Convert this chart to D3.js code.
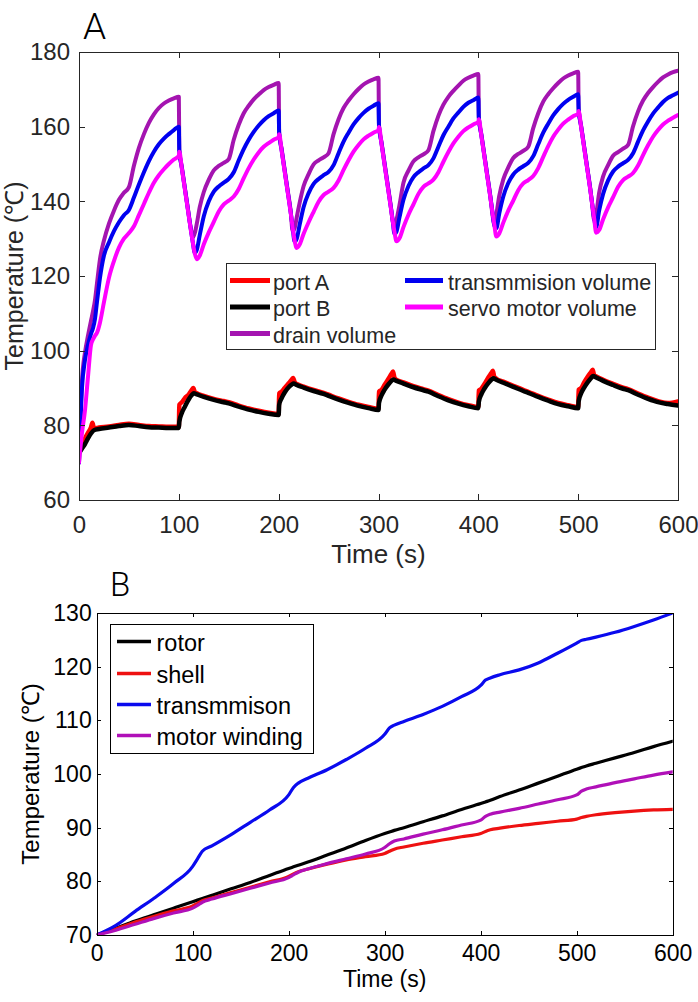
<!DOCTYPE html>
<html><head><meta charset="utf-8">
<script src="https://cdn.jsdelivr.net/npm/d3@7"></script>
<style>body{margin:0;background:#fff}svg{display:block}</style>
</head><body>
<script>
// ---------- Panel A data ----------
const volTime = [
 0,3,6,9,12,14,16,18,21,25,30,35,40,45,50,55,60,65,70,75,80,85,90,95,100,
 100.5,103,106,109,112,114,116,118,121,125,130,135,140,145,150,155,160,165,170,175,180,185,190,195,200,
 200.5,203,206,209,212,214,216,218,221,225,230,235,240,245,250,255,260,265,270,275,280,285,290,295,300,
 300.5,303,306,309,312,314,316,318,321,325,330,335,340,345,350,355,360,365,370,375,380,385,390,395,400,
 400.5,403,406,409,412,414,416,418,421,425,430,435,440,445,450,455,460,465,470,475,480,485,490,495,500,
 500.5,503,506,509,512,514,516,518,521,525,530,535,540,545,550,555,560,565,570,575,580,585,590,595,600];
const drainVolume = [
 70,92,99.5,104,108,110.5,113.5,118,124.5,129.5,134,137.5,140.4,142.3,143.8,149.5,154.3,158,161,163.3,165,166.2,167,167.6,168,
 153.8,149.2,143.7,138.2,132.8,130.3,131.5,134,138.5,142.5,145.8,148.3,149.5,150.3,151.3,156.5,160.5,163.6,165.6,167.3,168.6,169.8,170.6,171.2,171.7,
 158.5,154,148.5,143,137.5,132,132.8,135.6,139.6,144.1,147.3,149.9,151,151.8,152.9,158,162,165,167,168.7,170.1,171.3,172.1,172.7,173.1,
 160.4,155.9,150.4,144.9,139.4,135,133,135,139,145,148.2,150.7,151.8,152.6,153.7,158.8,162.9,165.9,168,169.6,171,172.3,173.1,173.7,174.1,
 162.5,158,152.5,147,141.5,136.8,134,136.5,141.5,145.9,149.1,151.6,152.7,153.5,154.6,159.6,163.6,166.7,168.7,170.3,171.7,172.9,173.7,174.3,174.7,
 164.7,160.2,154.7,149.2,143.7,139.2,135,136.5,142.3,146.7,149.7,152.2,153.2,154.1,155.1,160.1,164.1,167,169,170.6,172,173.2,174,174.6,175];
const transmissionVolume = [
 70,90,97.5,101.5,104.5,106,108.5,113,119.5,125.5,129,132,134.4,136.3,137.7,141,144.5,147.8,150.8,153.3,155.3,156.8,158,159.1,160,
 153.5,149,143.5,138,132.5,129,126.2,127,131,136,140,142.6,144,145,146,147.8,151,154,156.5,158.6,160.3,161.7,162.8,163.6,164.3,
 158.2,153.7,148.2,142.7,137.2,133,129.2,129.9,133.7,138.5,142.2,144.7,146,147,147.9,149.7,152.9,156,158.4,160.6,162.3,163.7,164.8,165.6,166.3,
 160.1,155.6,150.1,144.6,139.1,135.4,131.3,131.9,135.7,140.4,144.1,146.5,147.8,148.8,149.7,151.5,154.6,157.7,160,162.2,163.8,165.3,166.4,167.1,167.8,
 162.3,157.8,152.3,146.8,141.3,137.5,133.5,132.8,136.8,141.3,144.9,147.2,148.5,149.4,150.3,152.1,155.3,158.4,160.8,163,164.7,166.1,167.2,168,168.7,
 164.5,160,154.5,149,143.5,139.5,135.5,133,137.5,142,145.6,148,149.3,150.2,151.1,152.9,156,159,161.4,163.5,165.1,166.6,167.7,168.4,169.1];
const servoVolume = [
 70,78,84,93,101.5,103,104,104.8,107.5,113,119.5,124,127.6,130,131.5,133.3,136.3,139.3,142.3,145,147,148.6,150,151.2,152.2,
 153.3,148.8,143.3,137.8,132.3,129,126,124.5,125.5,128.5,131.7,134.5,137.3,139.2,140.2,141.3,143.3,146.2,148.9,151.2,153.1,154.6,155.6,156.5,157.2,
 158,153.5,148,142.5,137,133,129.5,127.5,128.4,131.3,134.4,137.2,139.9,141.7,142.6,143.6,145.6,148.4,151,153.3,155.1,156.6,157.6,158.4,159.1,
 159.9,155.4,149.9,144.4,138.9,135.2,131.8,129.3,130.1,133.1,136.4,139.2,142,143.9,144.8,145.8,147.8,150.6,153.2,155.5,157.3,158.8,159.8,160.6,161.3,
 162,157.6,152.1,146.6,141.1,137.3,133.8,130.6,131.4,134.3,137.5,140.2,143,144.8,145.7,146.8,148.9,151.9,154.8,157.3,159.2,160.8,161.9,162.8,163.5,
 164.2,159.8,154.3,148.8,143.3,139.3,135.5,131.6,132.3,135.2,138.4,141.1,143.9,145.7,146.6,147.6,149.6,152.4,155,157.3,159.1,160.6,161.6,162.4,163.1];

const portATime = [
 0,3,6,9,12,13.5,15,20,30,40,50,60,70,80,90,100,
 100.5,103,106,110,113,114.5,116,118,125,135,145,150,160,170,180,190,200,
 200.5,203,206,210,213,214.5,216,218,225,235,245,250,260,270,280,290,300,
 300.5,303,306,310,313,314.5,316,318,325,335,345,350,360,370,380,390,400,
 400.5,403,406,410,413,414.5,416,418,425,435,445,450,460,470,480,490,500,
 500.5,503,506,510,513,514.5,516,518,525,535,545,550,560,570,580,590,600];
const portA = [
 73,74.8,76.5,78,79.5,80.7,79.2,79.4,79.7,80.1,80.4,80.1,79.8,79.7,79.6,79.6,
 85.5,86.2,87.3,88.3,89.5,90,88.9,88.6,87.9,87.1,86.5,86.2,85.3,84.5,83.9,83.4,83.1,
 88.5,89,90,91.3,92.2,92.7,91.6,91.1,90.4,89.5,88.7,88.2,87.2,86.3,85.5,84.9,84.4,
 89,89.5,90.8,92.5,93.8,94.4,92.8,92.2,91.5,90.5,89.7,89.3,88.1,87,86.1,85.4,84.9,
 89.3,89.8,91,92.8,94,94.6,93,92.5,91.7,90.6,89.5,89,87.9,86.9,86,85.4,84.9,
 89.5,90,91.5,93.2,94.3,94.9,93.5,93.1,92.2,91.1,90.1,89.7,88.5,87.4,86.5,85.95,86.4];

const portBTime = [
 0,3,6,9,12,15,20,30,40,50,60,70,80,90,100,
 100.5,103,106,110,113,115,118,125,135,145,150,160,170,180,190,200,
 200.5,203,206,210,213,215,218,225,235,245,250,260,270,280,290,300,
 300.5,303,306,310,313,315,318,325,335,345,350,360,370,380,390,400,
 400.5,403,406,410,413,415,418,425,435,445,450,460,470,480,490,500,
 500.5,503,506,510,513,515,518,525,535,545,550,560,570,580,590,600];
const portB = [
 72.5,73.8,75,76.5,77.8,78.7,79,79.4,79.8,80.1,79.8,79.5,79.4,79.3,79.3,
 81,83.3,85,87,88.1,88.6,88.3,87.6,86.8,86.2,85.9,85,84.2,83.6,83.1,82.8,
 85.5,87.3,88.8,90.2,90.9,91.2,90.8,90.1,89.2,88.4,87.9,86.9,86,85.2,84.6,84.1,
 86,88,89.5,91,91.9,92.3,91.9,91.2,90.2,89.4,89,87.8,86.7,85.8,85.1,84.6,
 86.3,88.3,89.8,91.3,92.2,92.6,92.2,91.4,90.3,89.2,88.7,87.6,86.6,85.7,85.1,84.6,
 86.5,88.6,90.1,91.7,92.7,93.2,92.8,91.9,90.8,89.8,89.4,88.2,87.1,86.2,85.7,85.3];

const ticksA_x = [0,100,200,300,400,500,600];
const ticksA_y = [60,80,100,120,140,160,180];

// ---------- Panel B data ----------
const timeB = [0,20,40,60,80,100,105,110,120,140,160,180,200,205,210,220,240,260,280,300,305,310,320,340,360,380,400,405,410,420,440,460,480,500,505,510,520,540,560,580,600];
const rotor = [70,71.3,72.6,73.8,75,76.2,76.5,76.8,77.4,78.6,79.8,81.1,82.4,82.7,83,83.6,84.9,86.2,87.6,88.9,89.2,89.5,90,91.1,92.2,93.4,94.5,94.8,95.1,95.8,97,98.3,99.6,100.9,101.2,101.5,102,103,104,105.1,106.1];
const shell = [70,71.1,72.4,73.5,74.5,75.4,75.9,76.4,76.9,77.9,78.9,79.9,80.9,81.4,81.8,82.3,83.2,84,84.6,85.2,85.6,86,86.4,87.1,87.7,88.3,88.9,89.3,89.6,89.9,90.4,90.8,91.2,91.6,91.9,92.1,92.4,92.8,93.1,93.3,93.4];
const transmmison = [70,71.8,74.4,76.9,79.6,82.8,84.2,85.6,86.6,88.7,91,93.3,96.1,97.5,98.3,99.2,100.8,102.7,104.8,107.4,108.6,109.1,109.8,111.1,112.6,114.4,116.5,117.5,117.9,118.5,119.4,120.7,122.5,124.4,124.9,125.1,125.5,126.4,127.5,128.7,130];
const motorWinding = [70,70.9,72,73.1,74.1,75,75.5,76.1,76.7,77.7,78.7,79.7,80.7,81.2,81.7,82.3,83.3,84.2,85.1,86.3,87,87.5,87.9,88.8,89.6,90.5,91.4,92.1,92.5,92.9,93.6,94.4,95.2,96.1,96.8,97.2,97.6,98.4,99.1,99.8,100.4];

const ticksB_x = [0,100,200,300,400,500,600];
const ticksB_y = [70,80,90,100,110,120,130];

// ---------- drawing ----------
const FONT = "'Liberation Sans', Arial, Helvetica, sans-serif";
const svg = d3.select("body").append("svg").attr("width",698).attr("height",1002);

function panel(cfg){
  const {x, y, color, tick, tickFont, xTicks, yTicks, xPad, yPad} = cfg;
  const [x0,x1] = x.range(), [y0,y1] = y.range();
  const g = svg.append("g");
  const clipId = "clip"+cfg.id;
  svg.append("clipPath").attr("id",clipId).append("rect")
     .attr("x",x0).attr("y",y1).attr("width",x1-x0).attr("height",y0-y1);
  const lines = g.append("g").attr("clip-path",`url(#${clipId})`);
  cfg.series.forEach(s=>{
    const pts = s.t.map((t,i)=>[t,s.v[i]]);
    lines.append("path").datum(pts)
      .attr("fill","none").attr("stroke",s.color).attr("stroke-width",s.w)
      .attr("stroke-linejoin","round").attr("stroke-linecap","round")
      .attr("d", d3.line().x(d=>x(d[0])).y(d=>y(d[1])).curve(s.curve||d3.curveMonotoneX));
  });
  const style = sel => {
    sel.select(".domain").remove();
    sel.selectAll("line").attr("stroke",color).attr("shape-rendering","crispEdges");
    sel.selectAll("text").attr("fill",color).style("font-family",FONT).style("font-size",tickFont+"px");
  };
  g.append("g").attr("transform",`translate(0,${y0})`)
    .call(d3.axisBottom(x).tickValues(xTicks).tickSize(-tick).tickPadding(xPad).tickFormat(d3.format("d"))).call(style);
  g.append("g").attr("transform",`translate(0,${y1})`)
    .call(d3.axisTop(x).tickValues(xTicks).tickSize(-tick).tickFormat("")).call(style);
  g.append("g").attr("transform",`translate(${x0},0)`)
    .call(d3.axisLeft(y).tickValues(yTicks).tickSize(-tick).tickPadding(yPad).tickFormat(d3.format("d"))).call(style);
  g.append("g").attr("transform",`translate(${x1},0)`)
    .call(d3.axisRight(y).tickValues(yTicks).tickSize(-tick).tickFormat("")).call(style);
  g.append("rect").attr("x",x0+0.5).attr("y",y1+0.5).attr("width",x1-x0).attr("height",y0-y1)
    .attr("fill","none").attr("stroke",color).attr("stroke-width",1).attr("shape-rendering","crispEdges");
  // labels
  g.append("text").attr("x",(x0+x1)/2).attr("y",cfg.xLabelY).attr("text-anchor","middle")
    .attr("fill",color).style("font-family",FONT).style("font-size",cfg.labelFont+"px").text("Time (s)");
  g.append("text").attr("transform",`translate(${cfg.yLabelX},${(y0+y1)/2}) rotate(-90)`).attr("text-anchor","middle")
    .attr("fill",color).style("font-family",FONT).style("font-size",cfg.yLabelFont+"px").text("Temperature (℃)");
  // legend
  const L = cfg.legend;
  const lg = g.append("g");
  lg.append("rect").attr("x",L.x+0.5).attr("y",L.y+0.5).attr("width",L.w).attr("height",L.h)
    .attr("fill","#fff").attr("stroke",color).attr("stroke-width",1).attr("shape-rendering","crispEdges");
  L.items.forEach(it=>{
    lg.append("line").attr("x1",it.lx0).attr("x2",it.lx1).attr("y1",it.y-1.5).attr("y2",it.y-1.5)
      .attr("stroke",it.color).attr("stroke-width",L.lw);
    lg.append("text").attr("x",it.tx).attr("y",it.y).attr("dy","0.35em").attr("fill",color)
      .style("font-family",FONT).style("font-size",L.font+"px").text(it.name);
  });
  // panel letter
  svg.append("text").attr("x",cfg.letter.x).attr("y",cfg.letter.y)
    .style("font-family","Roboto,'DejaVu Sans',sans-serif").style("font-weight",300)
    .style("font-size",cfg.letter.size+"px").attr("fill","#000").text(cfg.letter.t);
}

const cDrain="#a414b0", cTrans="#0000f0", cServo="#ff00ff", cRed="#ff0000", cBlack="#000000";
panel({
  id:"A",
  x: d3.scaleLinear().domain([0,600]).range([79,678]),
  y: d3.scaleLinear().domain([60,180]).range([500,52]),
  color:"#262626", tick:6, tickFont:24, xTicks:ticksA_x, yTicks:ticksA_y, xPad:16, yPad:9,
  labelFont:26, yLabelFont:25, xLabelY:563, yLabelX:23,
  series:[
    {t:portATime, v:portA, color:cRed, w:4.5},
    {t:portBTime, v:portB, color:cBlack, w:4.5},
    {t:volTime, v:drainVolume, color:cDrain, w:4},
    {t:volTime, v:transmissionVolume, color:cTrans, w:4},
    {t:volTime, v:servoVolume, color:cServo, w:4}
  ],
  legend:{x:226,y:263,w:429,h:86,lw:5,font:21.5,items:[
    {name:"port A",color:cRed,lx0:230,lx1:270,tx:273,y:282},
    {name:"port B",color:cBlack,lx0:230,lx1:270,tx:273,y:308.5},
    {name:"drain volume",color:cDrain,lx0:230,lx1:270,tx:273,y:335},
    {name:"transmmision volume",color:cTrans,lx0:405,lx1:443,tx:448,y:282},
    {name:"servo motor volume",color:cServo,lx0:405,lx1:443,tx:448,y:308.5}
  ]},
  letter:{t:"A",x:83,y:39,size:37}
});

const bBlack="#000000", bRed="#ee1111", bBlue="#0a0aee", bPurple="#b010b8";
panel({
  id:"B",
  x: d3.scaleLinear().domain([0,600]).range([96.7,672.7]),
  y: d3.scaleLinear().domain([70,130]).range([935,613]),
  color:"#000", tick:4, tickFont:23, xTicks:ticksB_x, yTicks:ticksB_y, xPad:9.5, yPad:5,
  labelFont:23, yLabelFont:24, xLabelY:987, yLabelX:39,
  series:[
    {t:timeB, v:rotor, color:bBlack, w:3.2},
    {t:timeB, v:shell, color:bRed, w:3.2},
    {t:timeB, v:transmmison, color:bBlue, w:3.2},
    {t:timeB, v:motorWinding, color:bPurple, w:3.2}
  ],
  legend:{x:109.7,y:624.3,w:203,h:129,lw:3.5,font:23.5,items:[
    {name:"rotor",color:bBlack,lx0:117,lx1:151,tx:156.5,y:643},
    {name:"shell",color:bRed,lx0:117,lx1:151,tx:156.5,y:675},
    {name:"transmmison",color:bBlue,lx0:117,lx1:151,tx:156.5,y:706},
    {name:"motor winding",color:bPurple,lx0:117,lx1:151,tx:156.5,y:737}
  ]},
  letter:{t:"B",x:110,y:596,size:33}
});
</script>
</body></html>
